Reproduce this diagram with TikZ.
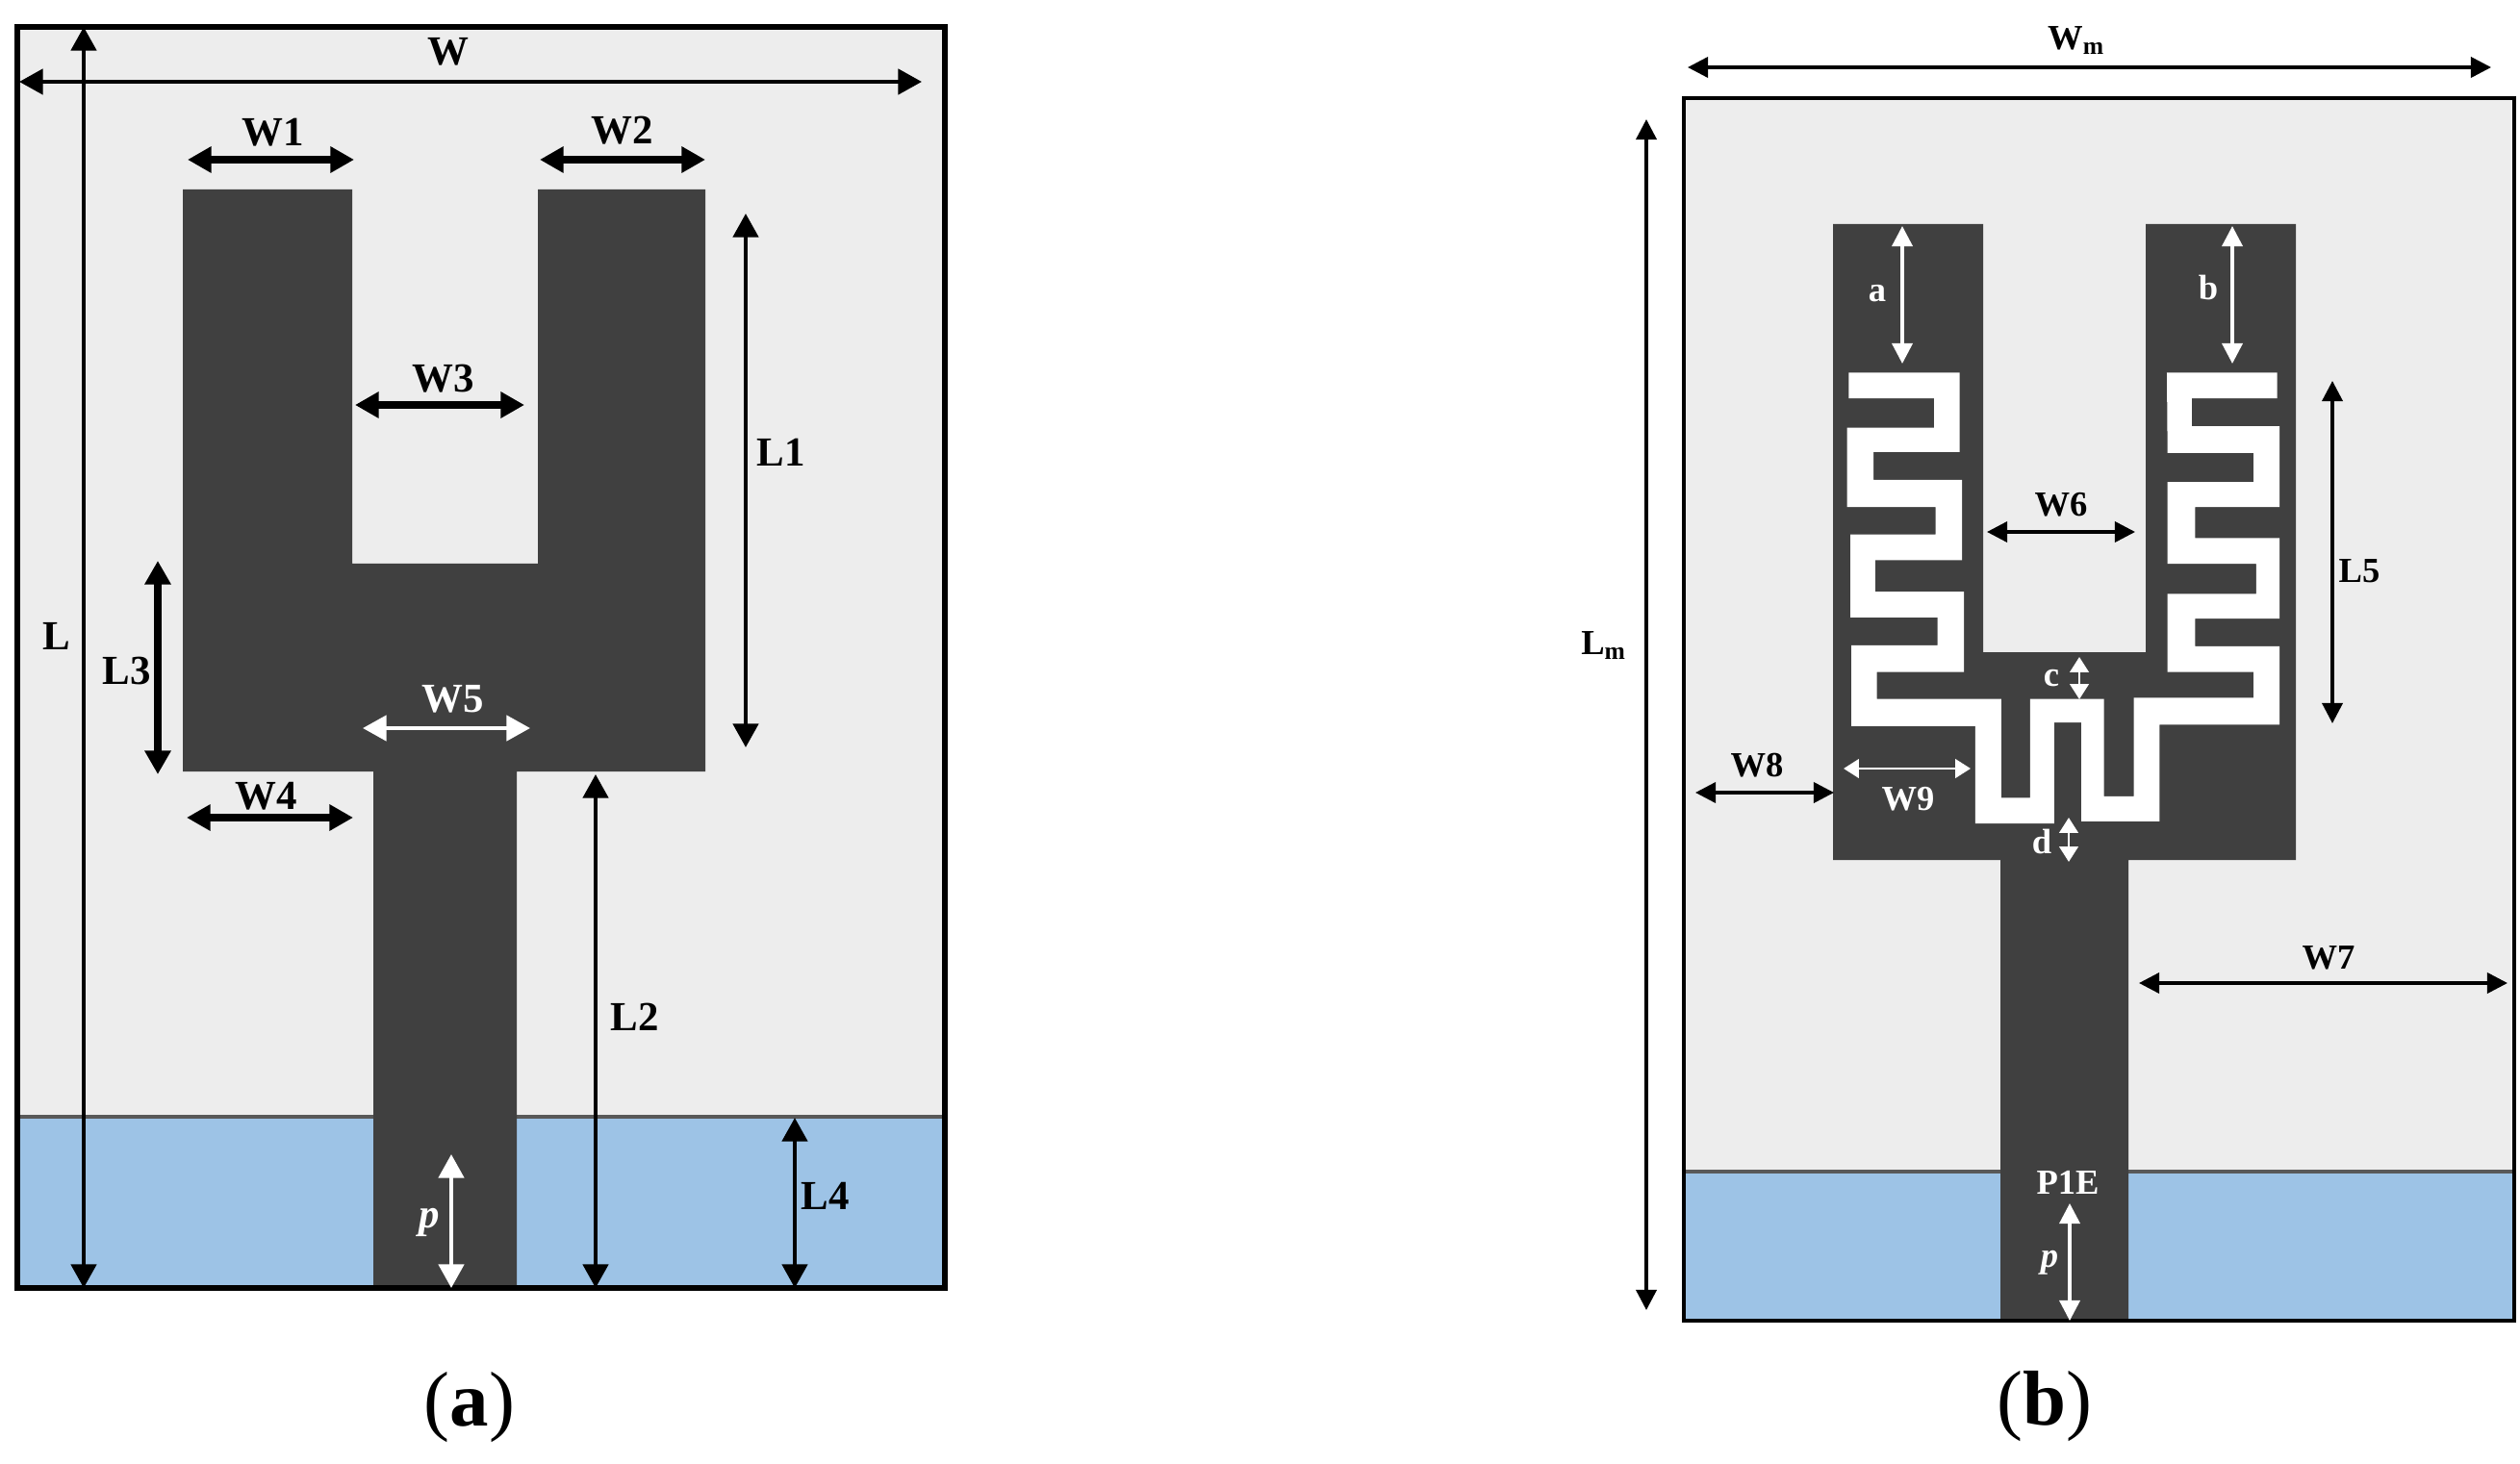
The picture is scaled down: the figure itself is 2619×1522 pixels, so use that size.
\documentclass[tikz,border=0pt]{standalone}
\usepackage{fontspec}
\setmainfont{Liberation Serif}
\usetikzlibrary{arrows.meta}
\definecolor{subgray}{HTML}{EDEDED}
\definecolor{patchgray}{HTML}{404040}
\definecolor{gndblue}{HTML}{9DC3E6}
\tikzset{
  lab/.style={inner sep=0pt,font=\fontsize{12.2}{14}\selectfont\bfseries},
  labm/.style={inner sep=0pt,font=\fontsize{10.4}{12}\selectfont\bfseries},
  dim/.style={line width=1.3pt,{Triangle[length=7pt,width=7.4pt]}-{Triangle[length=7pt,width=7.4pt]}},
  dimthick/.style={dim,line width=2pt},
  dimm/.style={line width=1pt,{Triangle[length=6pt,width=6pt]}-{Triangle[length=6pt,width=6pt]}},
  dimw/.style={dimm,white},
  dimwa/.style={dim,white},
  dimws/.style={line width=.8pt,white,{Triangle[length=4.5pt,width=5.5pt]}-{Triangle[length=4.5pt,width=5.5pt]}},
}
\begin{document}
\begin{tikzpicture}[x=0.01cm,y=-0.01cm]
\useasboundingbox (0,0) rectangle (2619,1522);
% panel a
\fill [subgray] (18,28) rectangle (982,1161);
\fill [gndblue] (18,1161) rectangle (982,1339);
\draw [black!65,line width=.9pt] (18,1161) -- (982,1161);
\fill [patchgray] (190,197) -- (366,197) -- (366,586) -- (559,586) -- (559,197) -- (733,197) -- (733,802)
  -- (537,802) -- (537,1339) -- (388,1339) -- (388,802) -- (190,802) -- cycle;
\draw [black,line width=1.5pt] (18,28) rectangle (982,1339);
% panel b
\fill [subgray] (1750,102) rectangle (2613,1218);
\fill [gndblue] (1750,1218) rectangle (2613,1373);
\draw [black!65,line width=.9pt] (1750,1218) -- (2613,1218);
\fill [patchgray] (1905,233) -- (2061,233) -- (2061,678) -- (2230,678) -- (2230,233) -- (2386,233) -- (2386,894)
  -- (2212,894) -- (2212,1373) -- (2079,1373) -- (2079,894) -- (1905,894) -- cycle;
\begin{scope}[shift={(1880,220)},xscale=0.3444,yscale=0.4464]
\fill [white] (120,375) -- (455,375) -- (455,560) -- (195,560) -- (195,625) -- (462,625) -- (462,812)
  -- (200,812) -- (200,885) -- (468,885) -- (468,1072) -- (205,1072) -- (205,1135) -- (580,1135)
  -- (580,1365) -- (667,1365) -- (667,1135) -- (890,1135) -- (890,1362) -- (980,1362) -- (980,1132)
  -- (1342,1132) -- (1342,1072) -- (1082,1072) -- (1082,890) -- (1350,890) -- (1350,820) -- (1082,820)
  -- (1082,630) -- (1342,630) -- (1342,562) -- (1082,562) -- (1080,375) -- (1413,375) -- (1413,435)
  -- (1155,435) -- (1155,500) -- (1420,500) -- (1420,688) -- (1165,688) -- (1165,760) -- (1420,760)
  -- (1420,948) -- (1165,948) -- (1165,1012) -- (1420,1012) -- (1420,1195) -- (1058,1195) -- (1058,1420)
  -- (822,1420) -- (822,1190) -- (740,1190) -- (740,1425) -- (502,1425) -- (502,1198) -- (128,1198)
  -- (128,1010) -- (388,1010) -- (388,945) -- (125,945) -- (125,752) -- (382,752) -- (382,688)
  -- (115,688) -- (115,503) -- (378,503) -- (378,435) -- (120,435) -- cycle;
\end{scope}
\draw [black,line width=1.1pt] (1750,102) rectangle (2613,1373);
% arrow ends, panel a
\coordinate (la) at (87,28);
\coordinate (lb) at (87,1339);
\coordinate (wa) at (20,85);
\coordinate (wb) at (958,85);
\coordinate (wonea) at (195,166);
\coordinate (woneb) at (368,166);
\coordinate (wtwoa) at (561,166);
\coordinate (wtwob) at (733,166);
\coordinate (lonea) at (775,222);
\coordinate (loneb) at (775,777);
\coordinate (wthreea) at (369,421);
\coordinate (wthreeb) at (545,421);
\coordinate (lthreea) at (164,583);
\coordinate (lthreeb) at (164,805);
\coordinate (wfivea) at (377,757);
\coordinate (wfiveb) at (551,757);
\coordinate (wfoura) at (194,850);
\coordinate (wfourb) at (367,850);
\coordinate (ltwoa) at (619,805);
\coordinate (ltwob) at (619,1339);
\coordinate (lfoura) at (826,1162);
\coordinate (lfourb) at (826,1339);
\coordinate (pa) at (469,1200);
\coordinate (pb) at (469,1339);
\draw [dim] (la) -- (lb);
\draw [dim] (wa) -- (wb);
\draw [dimthick] (wonea) -- (woneb);
\draw [dimthick] (wtwoa) -- (wtwob);
\draw [dim] (lonea) -- (loneb);
\draw [dimthick] (wthreea) -- (wthreeb);
\draw [dimthick] (lthreea) -- (lthreeb);
\draw [dimwa] (wfivea) -- (wfiveb);
\draw [dimthick] (wfoura) -- (wfourb);
\draw [dim] (ltwoa) -- (ltwob);
\draw [dim] (lfoura) -- (lfourb);
\draw [dimwa] (pa) -- (pb);
\node [lab] (w) at (466,54) {W};
\node [lab] (wone) at (284,138) {W1};
\node [lab] (wtwo) at (647,136) {W2};
\node [lab] (wthree) at (461,394) {W3};
\node [lab] (lone) at (812,470) {L1};
\node [lab] (l) at (59,661) {L};
\node [lab] (lthree) at (132,698) {L3};
\node [lab,white] (wfive) at (471,727) {W5};
\node [lab] (wfour) at (277,828) {W4};
\node [lab] (ltwo) at (660,1057) {L2};
\node [lab] (lfour) at (858,1243) {L4};
\node [lab,white,font=\fontsize{12.2}{14}\selectfont\bfseries\itshape] (p) at (446,1271) {p};
\node [inner sep=0pt,font=\fontsize{23}{26}\selectfont] (capa) at (488,1463) {(\textbf{a})};
% arrow ends, panel b
\coordinate (wma) at (1754,70);
\coordinate (wmb) at (2589,70);
\coordinate (lma) at (1711,124);
\coordinate (lmb) at (1711,1362);
\coordinate (aa) at (1977,235);
\coordinate (ab) at (1977,378);
\coordinate (ba) at (2320,235);
\coordinate (bb) at (2320,378);
\coordinate (wsixa) at (2065,553);
\coordinate (wsixb) at (2219,553);
\coordinate (ca) at (2161,683);
\coordinate (cb) at (2161,727);
\coordinate (wninea) at (1916,799);
\coordinate (wnineb) at (2048,799);
\coordinate (da) at (2150,850);
\coordinate (db) at (2150,896);
\coordinate (weighta) at (1762,824);
\coordinate (weightb) at (1906,824);
\coordinate (wsevena) at (2223,1022);
\coordinate (wsevenb) at (2606,1022);
\coordinate (lfivea) at (2424,396);
\coordinate (lfiveb) at (2424,752);
\coordinate (pma) at (2151,1251);
\coordinate (pmb) at (2151,1373);
\draw [dimm] (wma) -- (wmb);
\draw [dimm] (lma) -- (lmb);
\draw [dimw] (aa) -- (ab);
\draw [dimw] (ba) -- (bb);
\draw [dimm] (wsixa) -- (wsixb);
\draw [dimws] (ca) -- (cb);
\draw [dimws] (wninea) -- (wnineb);
\draw [dimws] (da) -- (db);
\draw [dimm] (weighta) -- (weightb);
\draw [dimm] (wsevena) -- (wsevenb);
\draw [dimm] (lfivea) -- (lfiveb);
\draw [dimw] (pma) -- (pmb);
\node [labm] (wm) at (2158,42) {W\textsubscript{m}};
\node [labm] (lm) at (1667,671) {L\textsubscript{m}};
\node [labm,white] (alab) at (1951,305) {a};
\node [labm,white] (blab) at (2295,299) {b};
\node [labm] (wsix) at (2142,525) {W6};
\node [labm,white] (clab) at (2132,705) {c};
\node [labm,white] (wnine) at (1983,831) {W9};
\node [labm,white] (dlab) at (2122,875) {d};
\node [labm] (weight) at (1826,796) {W8};
\node [labm] (wseven) at (2420,996) {W7};
\node [labm] (lfive) at (2452,594) {L5};
\node [labm,white] (pone) at (2149,1229) {P1E};
\node [labm,white,font=\fontsize{10.4}{12}\selectfont\bfseries\itshape] (pm) at (2130,1313) {p};
\node [inner sep=0pt,font=\fontsize{23}{26}\selectfont] (capb) at (2125,1462) {(\textbf{b})};
\end{tikzpicture}
\end{document}
